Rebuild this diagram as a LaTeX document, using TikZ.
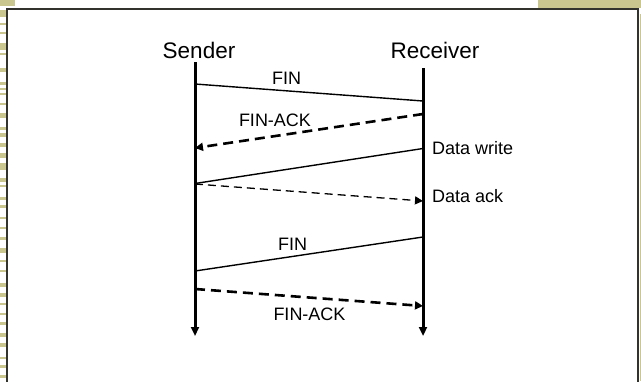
\documentclass[tikz,border=0pt]{standalone}
\usepackage{fontspec}
\setmainfont{Liberation Sans}
\usetikzlibrary{arrows.meta}
\definecolor{khaki}{RGB}{201,198,144}
\definecolor{framec}{RGB}{51,51,46}
\begin{document}
\begin{tikzpicture}[x=1pt,y=-1pt,
  title/.style={font=\fontsize{22.5}{26}\selectfont, inner sep=0pt},
  lbl/.style={font=\fontsize{18}{21}\selectfont, inner sep=0pt},
  life/.style={line width=3pt, -{Triangle[length=9pt,width=8pt]}},
  msg/.style={line width=1.4pt},
  thickdash/.style={line width=2.6pt, dash pattern=on 10pt off 6pt},
  thindash/.style={line width=1.3pt, dash pattern=on 8pt off 5pt},
  tip/.style={-{Triangle[length=8pt,width=8pt]}}]
\useasboundingbox (0,0) rectangle (641,381);
\clip (0,0) rectangle (641,381);
% background decoration
\fill[khaki] (538,0) rectangle (641,8);
\fill[khaki] (0,0) rectangle (15,5.5);
\foreach \y/\h in {10/7,23/2,32/1.5,43/7,53/2,68/4,82/3,88/2,93/2,103/1.5,113/5,127/3,133/4,143/4,153/5,163/7,178/4,185/2,197/3,205/3,217/1.5,227/1.5,237/3,248/5,260/1.5,270/1.5,283/4,293/4,303/1.5,313/1.5,322/3,333/4,343/4,357/1.5,365/3,375/3}
  \fill[khaki] (0,\y) rectangle (7,\y+\h);
\fill[khaki] (639.5,14) rectangle (641,381);
\draw[framec, line width=2.2pt] (7.3,9.2) rectangle (638.3,400);
% lifelines
\node[title] (sl) at (199,50) {Sender};
\node[title] (rl) at (435,50) {Receiver};
\coordinate (s0) at (195,62);
\coordinate (s1) at (195,336);
\coordinate (r0) at (423,68);
\coordinate (r1) at (423,336);
\draw[life] (s0) -- (s1);
\draw[life] (r0) -- (r1);
% message endpoints
\coordinate (a1) at (195,84);  \coordinate (b1) at (423,101);
\coordinate (b2) at (423,114); \coordinate (a2) at (195,148);
\coordinate (b3) at (423,148.5); \coordinate (a3) at (195,183.5);
\coordinate (a4) at (195,184); \coordinate (b4) at (423,201);
\coordinate (b5) at (423,237); \coordinate (a5) at (195,271);
\coordinate (a6) at (195,289); \coordinate (b6) at (423,306);
% messages
\draw[msg] (a1) -- (b1);
\draw[thickdash, tip] (b2) -- (a2);
\draw[msg] (b3) -- (a3);
\draw[thindash, tip] (a4) -- (b4);
\draw[msg] (b5) -- (a5);
\draw[thickdash, tip] (a6) -- (b6);
% labels
\node[lbl] (l1) at (286.5,78.5) {FIN};
\node[lbl] (l2) at (275,120.5) {FIN-ACK};
\node[lbl, anchor=west] (l3) at (432,148) {Data write};
\node[lbl, anchor=west] (l4) at (432,196) {Data ack};
\node[lbl] (l5) at (292.5,244) {FIN};
\node[lbl] (l6) at (309.5,314) {FIN-ACK};
\end{tikzpicture}
\end{document}
